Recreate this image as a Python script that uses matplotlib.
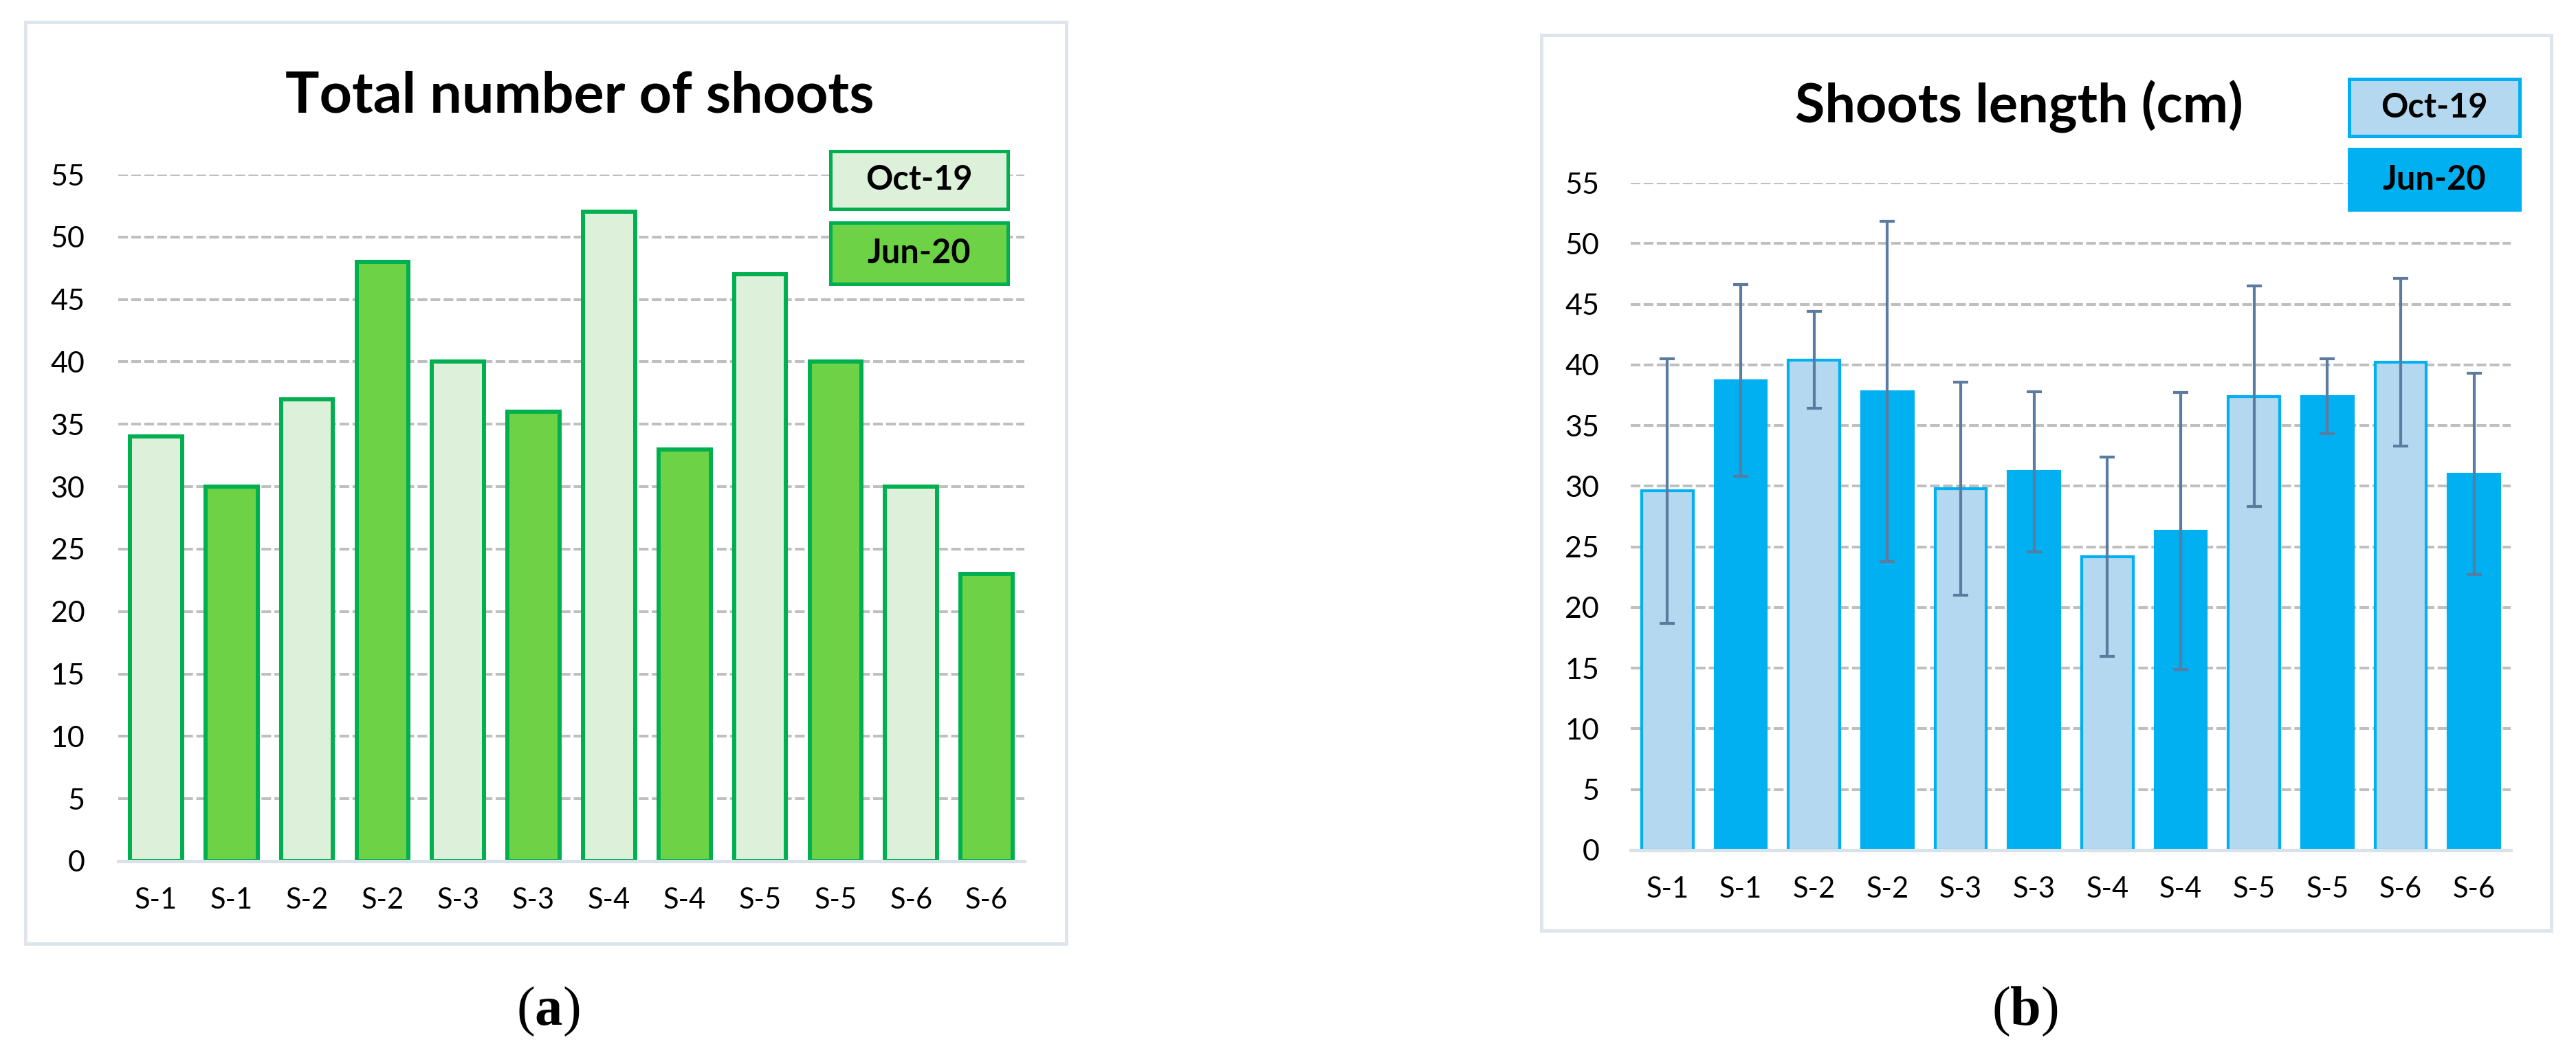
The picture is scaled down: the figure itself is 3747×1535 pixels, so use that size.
import numpy as np
import matplotlib
matplotlib.use("Agg")
import matplotlib.pyplot as plt
from matplotlib.patches import Rectangle

plt.rcParams['font.family'] = ['Lato', 'DejaVu Sans']
plt.rcParams['mathtext.fontset'] = 'custom'
plt.rcParams['mathtext.rm'] = 'Liberation Serif'
plt.rcParams['mathtext.bf'] = 'Liberation Serif:bold'

# dados
sites = ['S-1', 'S-2', 'S-3', 'S-4', 'S-5', 'S-6']
series = ['Oct-19', 'Jun-20']
shoots_oct = [34, 37, 40, 52, 47, 30]
shoots_jun = [30, 48, 36, 33, 40, 23]
length_oct = [29.6, 40.4, 29.8, 24.2, 37.4, 40.2]
length_jun = [38.7, 37.8, 31.2, 26.3, 37.4, 31.0]
err_oct = [10.9, 4.0, 8.8, 8.2, 9.1, 6.9]
err_jun = [7.9, 14.0, 6.6, 11.4, 3.1, 8.3]
yticks = list(range(0, 60, 5))

W, H = 3748, 1535
fig = plt.figure(figsize=(W / 100, H / 100), dpi=100)


def fx(px):
    return px / W


def fy(py):
    return 1 - py / H


def panel(x0, y0, x1, y1):
    fig.patches.append(Rectangle((fx(x0), fy(y1)), fx(x1 - x0), (y1 - y0) / H,
                                 transform=fig.transFigure, fill=False,
                                 edgecolor='#DEE5EC', lw=3.6, zorder=0))


def legend_box(x0, y0, x1, y1, text, face, edge):
    fig.patches.append(Rectangle((fx(x0), fy(y1)), fx(x1 - x0), (y1 - y0) / H,
                                 transform=fig.transFigure, facecolor=face,
                                 edgecolor=edge, lw=3.6, zorder=5))
    fig.text(fx((x0 + x1) / 2), fy((y0 + y1) / 2), text, ha='center', va='center',
             fontsize=35, fontweight='bold', zorder=6)


def style_axes(ax, pad_y, pad_x):
    ax.set_ylim(0, 55)
    ax.set_xlim(-0.5, 11.5)
    ax.set_yticks(yticks)
    ax.yaxis.grid(True, color='#BFBFBF', lw=2.9, linestyle=(0, (3.5, 1.2)))
    ax.set_axisbelow(True)
    for s in ['top', 'right', 'left']:
        ax.spines[s].set_visible(False)
    ax.spines['bottom'].set_color('#DAE2E9')
    ax.spines['bottom'].set_linewidth(3.6)
    ax.spines['bottom'].set_zorder(4)
    ax.tick_params(axis='y', length=0, labelsize=31, pad=pad_y)
    ax.tick_params(axis='x', length=0, labelsize=30, pad=pad_x)
    pos = np.arange(12)
    ax.set_xticks(pos)
    ax.set_xticklabels([s for s in sites for _ in range(2)])


x_oct = np.arange(6) * 2
x_jun = np.arange(6) * 2 + 1

# (a) numero total de brotos
panel(37, 32, 1551, 1373)
ax1 = fig.add_axes([fx(172), fy(1253), fx(1490 - 172), (1253 - 254) / H])
ax1.bar(x_oct, shoots_oct, width=0.69, color='#DDF0DA', edgecolor='#00B050', lw=4.3)
ax1.bar(x_jun, shoots_jun, width=0.69, color='#6DD245', edgecolor='#00B050', lw=4.3)
style_axes(ax1, 35, 27)
fig.text(fx(843), fy(140), 'Total number of shoots', ha='center', va='center',
         fontsize=59.5, fontweight='bold')
legend_box(1208, 220, 1466, 304, series[0], '#DDF0DA', '#00B050')
legend_box(1208, 324, 1466, 413, series[1], '#6DD245', '#00B050')
fig.text(fx(797), fy(1472), r'($\mathbf{a}$)', ha='center', va='center',
         fontsize=58, family='Liberation Serif')

# (b) comprimento dos brotos
panel(2242, 51, 3711, 1354)
ax2 = fig.add_axes([fx(2372), fy(1237), fx(3652 - 2372), (1237 - 266) / H])
ax2.bar(x_oct, length_oct, width=0.70, color='#B4D8EF', edgecolor='#00B0F0', lw=3)
ax2.bar(x_jun, length_jun, width=0.70, color='#00B0F0', edgecolor='#00B0F0', lw=3)
ax2.errorbar(x_oct, length_oct, yerr=err_oct, fmt='none', ecolor='#5B7BA1',
             elinewidth=3, capsize=8, capthick=3, zorder=3)
ax2.errorbar(x_jun, length_jun, yerr=err_jun, fmt='none', ecolor='#5B7BA1',
             elinewidth=3, capsize=8, capthick=3, zorder=3)
style_axes(ax2, 33, 27)
fig.text(fx(2937), fy(155), 'Shoots length (cm)', ha='center', va='center',
         fontsize=57, fontweight='bold')
legend_box(3417, 115, 3665, 198, series[0], '#B4D8EF', '#00B0F0')
legend_box(3417, 217, 3665, 305, series[1], '#00B0F0', '#00B0F0')
fig.text(fx(2945), fy(1472), r'($\mathbf{b}$)', ha='center', va='center',
         fontsize=58, family='Liberation Serif')

fig.savefig('out.png', dpi=100)
